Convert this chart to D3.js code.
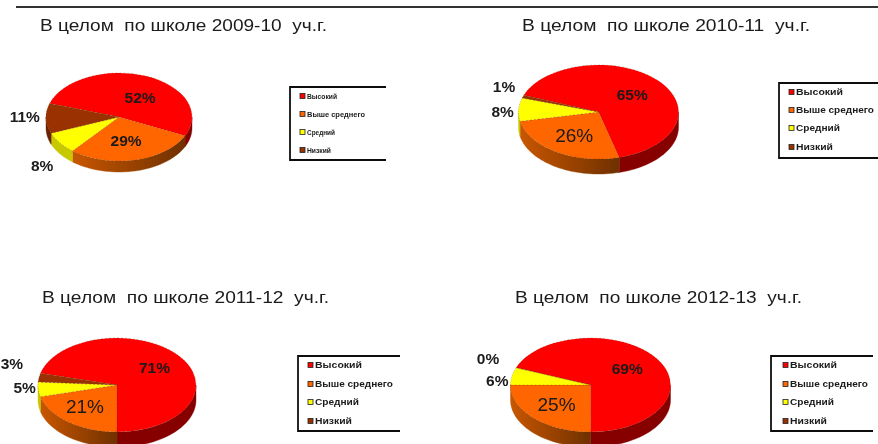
<!DOCTYPE html>
<html><head><meta charset="utf-8">
<script src="https://cdn.jsdelivr.net/npm/d3@7"></script>
<style>html,body{margin:0;padding:0;background:#fff}svg{display:block}text{font-family:"Liberation Sans",Arial,sans-serif;fill:#1a1a1a}</style>
</head><body><div id="c"></div>
<script>
const categories = ["Высокий","Выше среднего","Средний","Низкий"];
const titles = ["В целом  по школе 2009-10  уч.г.","В целом  по школе 2010-11  уч.г.","В целом  по школе 2011-12  уч.г.","В целом  по школе 2012-13  уч.г."];
const values0910 = [52,29,8,11];
const values1011 = [65,26,8,1];
const values1112 = [71,21,5,3];
const values1213 = [69,25,6,0];
const seriesValues = [values0910,values1011,values1112,values1213];

const topColors = ["#ff0000","#ff6600","#ffff00","#993300"];
const sideColors = ["#860000","url(#sideOrange)","#c8c800","#6a2400"];
const W=878,H=444,deg=Math.PI/180;

const layout = [
 {cx:119,cy:117,rx:73,ry:44,depth:11,start:-72,  title:[40,31,287],
  legend:[290,87,386,160,300],legendY:[96,114,132,150],legendFont:[7.6,30,58,28,24],
  nudge:[[5,4.5],[-2.5,-2],[-3,16],[-3,-2]],big:false},
 {cx:598.5,cy:112,rx:80,ry:47,depth:15,start:-69, title:[522,31,288],
  legend:[779,83,878,158,789],legendY:[92,110,128,147],legendFont:[9.6,47,78,44,37],
  nudge:[[-2,1],[1,-1],[4,2],[0,-6]],big:true},
 {cx:117,cy:385,rx:79,ry:47,depth:15,start:-75.6, title:[42,303,287],
  legend:[298,356,400,431,308],legendY:[365,384,402,421],legendFont:[9.6,47,78,44,37],
  nudge:[[0,0],[-3,-1],[6,-3.5],[-7.5,-12]],big:true},
 {cx:590.5,cy:385,rx:80,ry:47,depth:15,start:-68.4, title:[515,303,287],
  legend:[771,356,873,431,783],legendY:[365,384,402,421],legendFont:[9.6,47,78,44,37],
  nudge:[[-3,-1],[0,-1],[5,6],[-9.5,-5]],big:true}
];

const svg=d3.select("#c").append("svg").attr("width",W).attr("height",H);
const defs=svg.append("defs");
const f=defs.append("filter").attr("id","soft").attr("x","-5%").attr("y","-5%").attr("width","110%").attr("height","110%");
f.append("feGaussianBlur").attr("stdDeviation",0.7);
const g0=defs.append("linearGradient").attr("id","sideOrange");
g0.append("stop").attr("offset","0%").attr("stop-color","#c85600");
g0.append("stop").attr("offset","70%").attr("stop-color","#8a3c00");
g0.append("stop").attr("offset","100%").attr("stop-color","#6e3000");

const root=svg.append("g").attr("filter","url(#soft)");
root.append("rect").attr("width",W).attr("height",H).attr("fill","#fff");
root.append("line").attr("x1",16).attr("x2",W).attr("y1",7).attr("y2",7).attr("stroke","#333").attr("stroke-width",2);

seriesValues.forEach((vals,i)=>{
  const L=layout[i];
  root.append("text").attr("x",L.title[0]).attr("y",L.title[1]).attr("font-size",17)
    .attr("textLength",L.title[2]).attr("lengthAdjust","spacingAndGlyphs").style("white-space","pre").text(titles[i]);

  const pie=d3.pie().sort(null).startAngle(L.start*deg).endAngle((L.start+360)*deg);
  const arcs=pie(vals);
  const px=a=>L.cx+L.rx*Math.sin(a), py=a=>L.cy-L.ry*Math.cos(a);

  // side walls: the front half of the ellipse, swept down by the depth
  const wall=root.append("g");
  arcs.forEach((d,k)=>{
    [0,2*Math.PI].forEach(shift=>{
      const a0=Math.max(d.startAngle+shift,Math.PI/2), a1=Math.min(d.endAngle+shift,1.5*Math.PI);
      if(a1<=a0) return;
      const n=d3.range(0,41).map(t=>a0+(a1-a0)*t/40);
      const pts=n.map(a=>[px(a),py(a)]).concat(n.slice().reverse().map(a=>[px(a),py(a)+L.depth]));
      wall.append("path").attr("d",d3.line()(pts)+"Z").attr("fill",sideColors[k]).attr("stroke",sideColors[k]).attr("stroke-width",0.4);
    });
  });

  // top face
  const top=root.append("g").attr("transform",`translate(${L.cx},${L.cy}) scale(1,${L.ry/L.rx})`);
  const arc=d3.arc().innerRadius(0).outerRadius(L.rx);
  top.selectAll("path").data(arcs).join("path").attr("d",arc)
    .attr("fill",(d,k)=>topColors[k]).attr("stroke","#5a2a00").attr("stroke-width",0.5).attr("stroke-dasharray","2 2").attr("stroke-opacity",0.7);

  // labels
  arcs.forEach((d,k)=>{
    const m=(d.startAngle+d.endAngle)/2, inner=k<2, q=inner?0.6:1.25;
    const x=L.cx+q*L.rx*Math.sin(m)+L.nudge[k][0], y=L.cy-q*L.ry*Math.cos(m)+L.nudge[k][1];
    const large=inner&&k===1&&L.big;
    root.append("text").attr("x",x).attr("y",y).attr("dy","0.36em").attr("text-anchor","middle")
      .attr("font-size",large?19:15.5).attr("font-weight",large?"normal":"bold").text(vals[k]+"%");
  });

  // legend: open on its right side
  const [x0,y0,x1,y1,sx]=L.legend;
  root.append("path").attr("d",d3.line()([[x1,y0],[x0,y0],[x0,y1],[x1,y1]])).attr("fill","none").attr("stroke","#111").attr("stroke-width",1.8);
  categories.forEach((c,k)=>{
    const y=L.legendY[k];
    root.append("rect").attr("x",sx).attr("y",y-2.5).attr("width",5).attr("height",5).attr("fill",topColors[k]).attr("stroke","#222").attr("stroke-width",0.8);
    root.append("text").attr("x",sx+7).attr("y",y).attr("dy","0.36em").attr("font-size",L.legendFont[0]).attr("font-weight","bold")
      .attr("textLength",L.legendFont[k+1]).attr("lengthAdjust","spacingAndGlyphs").text(c);
  });
});
</script></body></html>
